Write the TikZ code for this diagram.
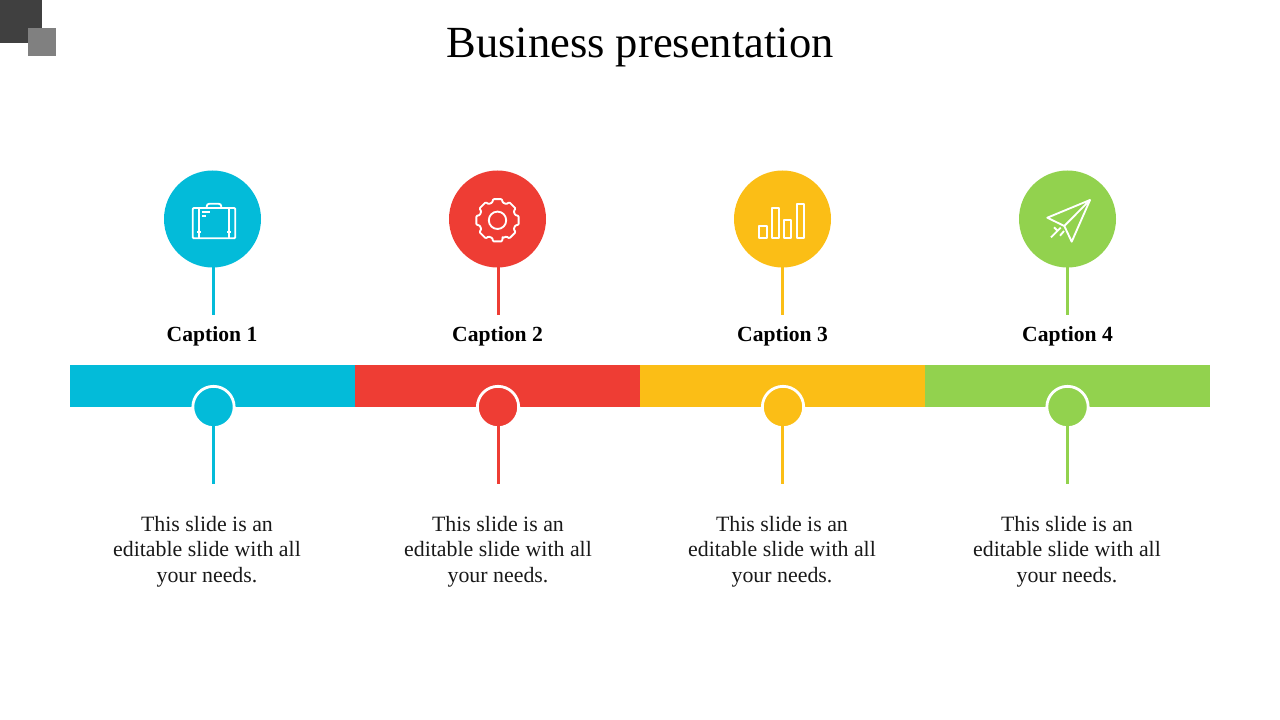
\documentclass[tikz,border=0pt]{standalone}
\usepackage{fontspec}
\setmainfont{Liberation Serif}
\definecolor{ccyan}{HTML}{03BBD9}
\definecolor{cred}{HTML}{EE3D34}
\definecolor{cyel}{HTML}{FBBE16}
\definecolor{cgrn}{HTML}{92D24E}
\tikzset{
  bigdot/.style={circle,fill=#1,draw=none,minimum size=72.75pt,inner sep=0pt},
  smalldot/.style={circle,fill=#1,draw=white,line width=2.1pt,minimum size=31pt,inner sep=0pt},
  barseg/.style={fill=#1,draw=none},
  stem/.style={draw=#1,line width=2.25pt},
  icon/.style={draw=white,line width=1.4pt,line join=round,fill=none},
  captext/.style={font=\fontsize{16.2}{18}\selectfont\bfseries,text=black,inner sep=0pt},
  bodytext/.style={font=\fontsize{16.4}{19.1}\selectfont,align=center,text=black!90,inner sep=0pt},
  titletext/.style={font=\fontsize{33.4}{38}\selectfont,text=black,inner sep=0pt}
}
\begin{document}
\begin{tikzpicture}[x=0.75pt,y=-0.75pt]
\useasboundingbox (0,0) rectangle (1280,720);
% corner squares
\fill[black!75] (0,0) rectangle (42,43);
\fill[black!50] (28,28) rectangle (56,56);
\node[titletext] (title) at (640,47.5) {Business presentation};
% bar
\fill[barseg=ccyan] (70,365) rectangle (355,407);
\fill[barseg=cred] (355,365) rectangle (640,407);
\fill[barseg=cyel] (640,365) rectangle (925,407);
\fill[barseg=cgrn] (925,365) rectangle (1210,407);
% top circles and stems
\node[bigdot=ccyan] (c1) at (212.5,219) {};
\node[bigdot=cred] (c2) at (497.5,219) {};
\node[bigdot=cyel] (c3) at (782.5,219) {};
\node[bigdot=cgrn] (c4) at (1067.5,219) {};
\coordinate (t1) at (213,315);
\coordinate (t2) at (498,315);
\coordinate (t3) at (782,315);
\coordinate (t4) at (1067,315);
\draw[stem=ccyan] (213,267) -- (t1);
\draw[stem=cred] (498,267) -- (t2);
\draw[stem=cyel] (782,267) -- (t3);
\draw[stem=cgrn] (1067,267) -- (t4);
% captions
\node[captext] (cap1) at (212,336) {Caption 1};
\node[captext] (cap2) at (497.5,336) {Caption 2};
\node[captext] (cap3) at (782.5,336) {Caption 3};
\node[captext] (cap4) at (1067.5,336) {Caption 4};
% small circles and stems
\node[smalldot=ccyan] (s1) at (213.5,407) {};
\node[smalldot=cred] (s2) at (498,407) {};
\node[smalldot=cyel] (s3) at (783,407) {};
\node[smalldot=cgrn] (s4) at (1067.5,407) {};
\coordinate (b1) at (213,484);
\coordinate (b2) at (498,484);
\coordinate (b3) at (782,484);
\coordinate (b4) at (1067,484);
\draw[stem=ccyan] (213,426) -- (b1);
\draw[stem=cred] (498,426) -- (b2);
\draw[stem=cyel] (782,426) -- (b3);
\draw[stem=cgrn] (1067,426) -- (b4);
% body text
\node[bodytext] (d1) at (207,551.5) {This slide is an\\editable slide with all\\your needs.};
\node[bodytext] (d2) at (498,551.5) {This slide is an\\editable slide with all\\your needs.};
\node[bodytext] (d3) at (782,551.5) {This slide is an\\editable slide with all\\your needs.};
\node[bodytext] (d4) at (1067,551.5) {This slide is an\\editable slide with all\\your needs.};
% briefcase
\draw[icon,rounded corners=0.8pt] (192.7,208) rectangle (235.3,238.3);
\draw[icon,rounded corners=2pt] (206.7,208) -- (206.7,203.7) -- (221.3,203.7) -- (221.3,208);
\draw[icon] (199,208) -- (199,238.3) (229,208) -- (229,238.3);
\draw[icon] (197,231.7) -- (201,231.7) (227,231.7) -- (231,231.7);
\draw[icon] (202.3,211.7) -- (210,211.7) (202.3,216) -- (205.7,216);
% gear
\begin{scope}[shift={(497.5,220.3)}]
\draw[icon,rounded corners=0.7pt]
  (90-16:18.5)
  \foreach \k in {0,...,7}{
    -- ({90+45*\k-16}:18.5) -- ({90+45*\k-12}:21.6) -- ({90+45*\k+12}:21.6) -- ({90+45*\k+16}:18.5)
  } -- cycle;
\draw[icon] (0,0) circle (8.7);
\end{scope}
% bars icon
\draw[icon] (759.3,226) rectangle (766.7,238);
\draw[icon] (772,207.7) rectangle (779,238);
\draw[icon] (784.3,220) rectangle (791.3,238);
\draw[icon] (796.7,203.7) rectangle (803.7,238);
% plane
\draw[icon] (1047.3,217.7) -- (1090,200) -- (1071.7,241.7) -- (1064.3,226) -- cycle;
\draw[icon] (1064.3,226) -- (1090,200);
\draw[icon] (1051,237.3) -- (1060.7,227.7) (1060,235.7) -- (1064,231) (1054,227.3) -- (1056.7,230);
\end{tikzpicture}
\end{document}
